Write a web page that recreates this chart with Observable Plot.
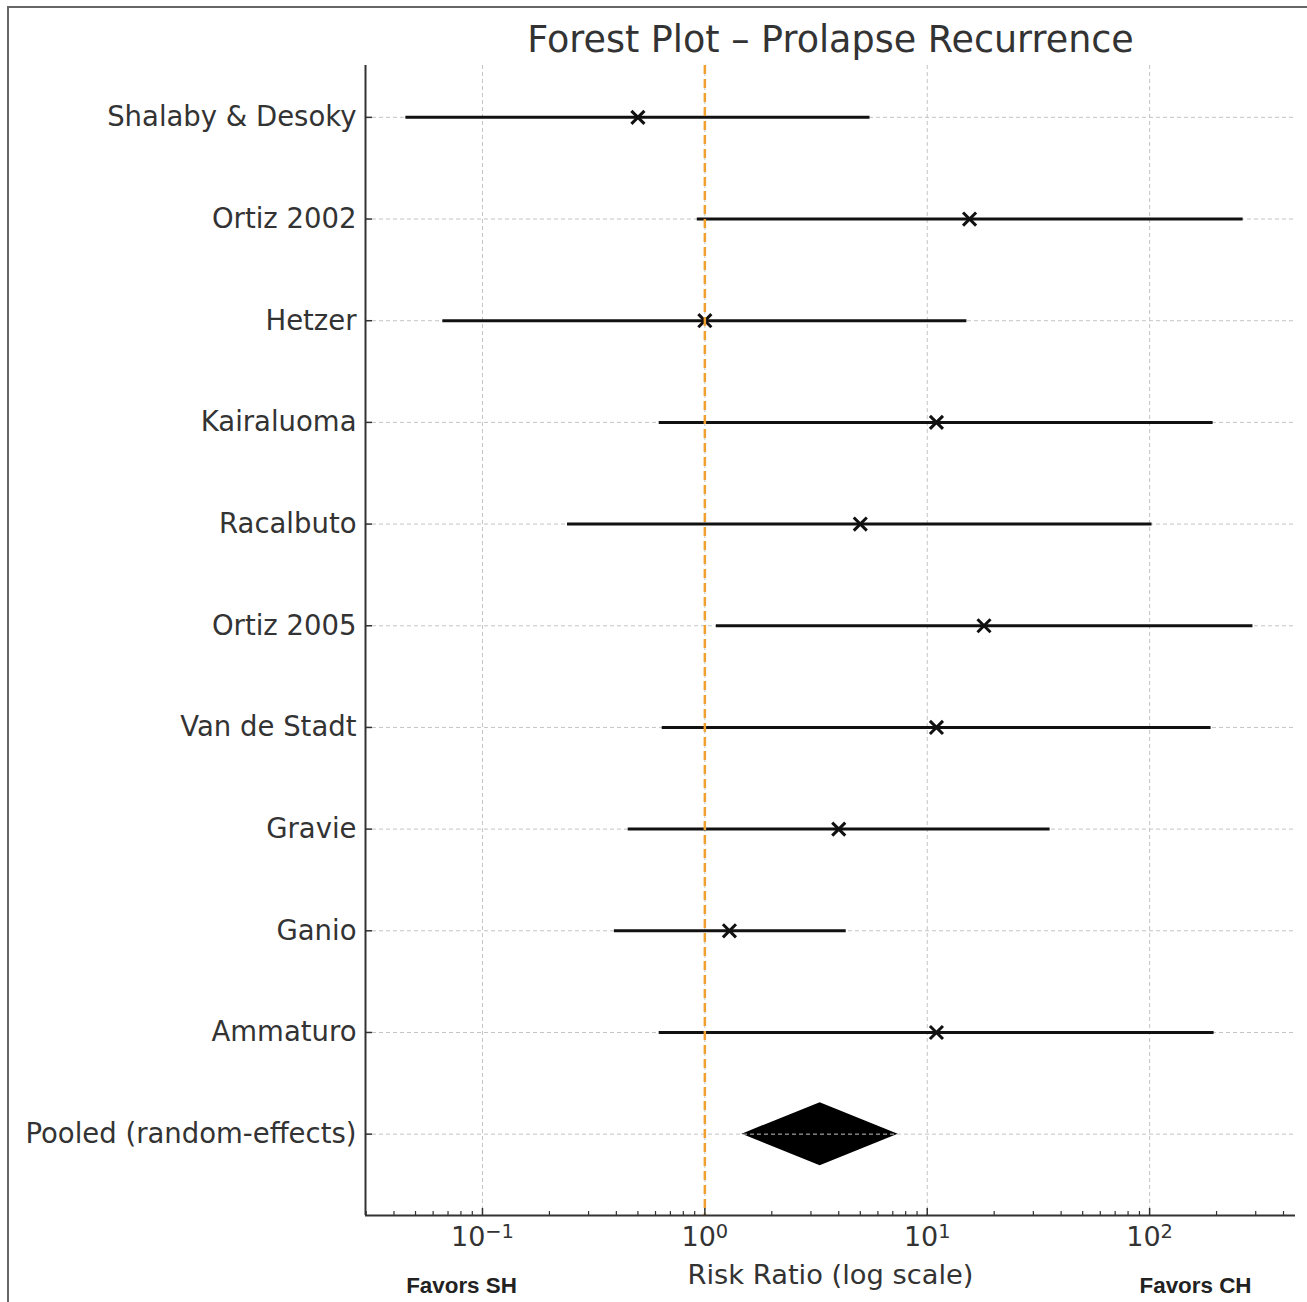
<!DOCTYPE html>
<html><head><meta charset="utf-8">
<script src="https://cdn.jsdelivr.net/npm/d3@7"></script>
<script src="https://cdn.jsdelivr.net/npm/@observablehq/plot@0.6"></script>
<style>
html,body{margin:0;padding:0;background:#fff;}
#wrap{position:relative;width:1307px;height:1302px;overflow:hidden;background:#fff;}
#border{position:absolute;left:7px;top:6px;width:1400px;height:1400px;border-left:2px solid #666;border-top:2px solid #666;}
#chart{position:absolute;left:0;top:0;}
</style></head><body>
<div id="wrap"><div id="border"></div><div id="chart"></div></div>
<script>
// ---- data ----
const studies = ["Shalaby & Desoky","Ortiz 2002","Hetzer","Kairaluoma","Racalbuto","Ortiz 2005","Van de Stadt","Gravie","Ganio","Ammaturo"];
const estimates = [0.50, 15.5, 1.0, 11.0, 5.0, 18.0, 11.0, 4.0, 1.29, 11.0];
const lower =     [0.045, 0.92, 0.066, 0.62, 0.24, 1.12, 0.64, 0.45, 0.39, 0.62];
const upper =     [5.5, 262, 15.0, 192, 102, 290, 188, 35.5, 4.3, 194];
const pooledLabel = "Pooled (random-effects)";
const pooledEstimate = 3.3;
const pooledLower = 1.47;
const pooledUpper = 7.4;
const xTicks = [0.1, 1, 10, 100];
const xTickBase = "10";
const xTickExponents = ["\u22121", "0", "1", "2"];
const titleText = "Forest Plot \u2013 Prolapse Recurrence";
const xLabel = "Risk Ratio (log scale)";
const leftNote = "Favors SH";
const rightNote = "Favors CH";

// ---- derived ----
const n = studies.length;
const rows = studies.map((s, i) => ({label: s, y: n - i, est: estimates[i], lo: lower[i], hi: upper[i]}));
const yTicks = d3.range(0, n + 1);
const yLabelOf = v => v === 0 ? pooledLabel : studies[n - v];
const xDomain = [Math.pow(10, -1.526), Math.pow(10, 2.656)];
const yDomain = [-0.8, 10.51];
const halfH = 0.31;
const diamond = [
  {x: pooledLower, y1: 0, y2: 0},
  {x: pooledEstimate, y1: -halfH, y2: halfH},
  {x: pooledUpper, y1: 0, y2: 0}
];
const minorTicks = [];
for (let e = -2; e <= 2; e++) for (let m = 2; m <= 9; m++) {
  const v = m * Math.pow(10, e);
  if (v > xDomain[0] && v < xDomain[1]) minorTicks.push(v);
}
const gridStyle = {stroke: "#c4c4c4", strokeOpacity: 1, strokeWidth: 1, strokeDasharray: "4,3"};
const noteStyle = {fontSize: 22.4, fontWeight: "bold", fontFamily: "Liberation Sans, Arial, sans-serif", textAnchor: "middle", lineAnchor: "middle", fill: "#222"};

const chart = Plot.plot({
  width: 1307, height: 1302,
  marginLeft: 365, marginRight: 12, marginTop: 65, marginBottom: 87,
  style: {fontFamily: "DejaVu Sans, sans-serif", color: "#333", background: "transparent"},
  x: {type: "log", domain: xDomain},
  y: {domain: yDomain},
  marks: [
    Plot.areaY(diamond, {x: "x", y1: "y1", y2: "y2", fill: "black"}),
    Plot.gridX(xTicks, gridStyle),
    Plot.gridY(yTicks, gridStyle),
    Plot.link(rows, {x1: "lo", x2: "hi", y1: "y", y2: "y", stroke: "#111", strokeWidth: 3}),
    Plot.dot(rows, {x: "est", y: "y", symbol: "times", r: 6, stroke: "#111", strokeWidth: 3}),
    Plot.ruleX([1], {stroke: "#f0a030", strokeWidth: 2.5, strokeDasharray: "9,5"}),
    Plot.ruleX([xDomain[0]], {stroke: "#333", strokeWidth: 2}),
    Plot.ruleY([yDomain[0]], {stroke: "#333", strokeWidth: 2}),
    Plot.axisX(xTicks, {tickFormat: d => xTickBase + "|" + xTickExponents[xTicks.indexOf(d)], tickSize: -7, tickPadding: 18, fontSize: 27, label: null, strokeWidth: 1.5}),
    Plot.axisX(minorTicks, {tickFormat: () => "", tickSize: -4, label: null, strokeWidth: 1.2}),
    Plot.axisY(yTicks, {tickFormat: yLabelOf, tickSize: -7, tickPadding: 16, fontSize: 27.5, label: null, strokeWidth: 1.5}),
    Plot.text([titleText], {text: d => d, frameAnchor: "top", dy: -25, fontSize: 36.5, lineAnchor: "middle", fill: "#333"}),
    Plot.text([xLabel], {text: d => d, frameAnchor: "bottom", dy: 60, fontSize: 27.3, lineAnchor: "middle", fill: "#333"}),
    Plot.text([leftNote], {text: d => d, frameAnchor: "bottom-left", dx: 96, dy: 70, ...noteStyle}),
    Plot.text([rightNote], {text: d => d, frameAnchor: "bottom-right", dx: -100, dy: 70, ...noteStyle})
  ]
});
// render exponents as raised superscripts (mathtext-like)
chart.querySelectorAll('g[aria-label="x-axis tick label"] text').forEach(t => {
  const s = t.textContent;
  if (!s.includes("|")) return;
  const [base, exp] = s.split("|");
  t.textContent = "";
  const b = document.createElementNS("http://www.w3.org/2000/svg", "tspan");
  b.textContent = base;
  const e = document.createElementNS("http://www.w3.org/2000/svg", "tspan");
  e.setAttribute("dy", "-0.42em");
  e.setAttribute("font-size", "0.72em");
  e.textContent = exp;
  t.appendChild(b); t.appendChild(e);
});
document.getElementById("chart").appendChild(chart);
</script>
</body></html>
